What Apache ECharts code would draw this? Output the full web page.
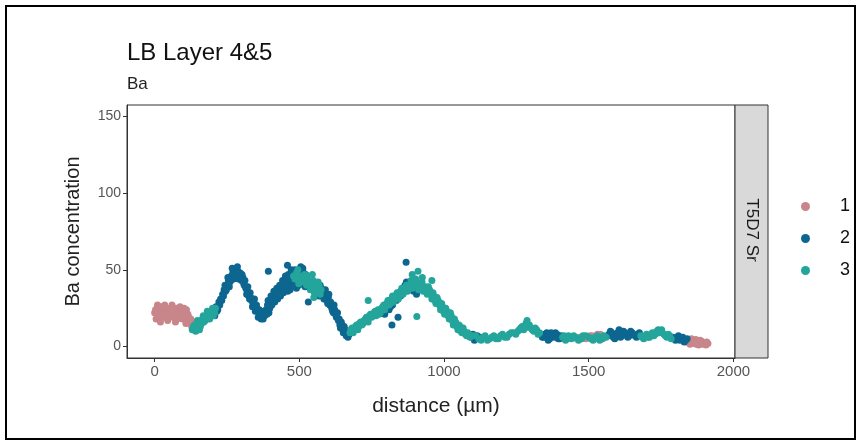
<!DOCTYPE html>
<html>
<head>
<meta charset="utf-8">
<script src="https://cdn.jsdelivr.net/npm/echarts@6/dist/echarts.min.js"></script>
<style>html,body{margin:0;padding:0;background:#fff}#c{width:860px;height:441px}</style>
</head>
<body>
<div id="c"></div>
<script>
var groups = ['1', '2', '3'];
var colors = ['#C8858A', '#0D668F', '#24A59C'];
var xTicks = [0, 500, 1000, 1500, 2000];
var yTicks = [0, 50, 100, 150];

var dist1 = [0,5,8,10,15,20,22,28,32,38,42,45,50,55,60,62,68,72,75,80,85,88,92,96,100,105,110,112,118,122,128,132,
  3,12,18,25,35,48,58,65,78,90,102,115,125,108,
  1470,1490,1505,1520,1540,1555,1530,1548,1512,
  1830,1845,1855,1865,1875,1885,1895,1905,1912,1850,1870,1890,1880,1838,1860,1898,1908,1872,1885];
var ba1 = [22,18,25,27,20,16,23,26,19,22,25,17,21,24,27,19,22,16,25,21,19,26,23,18,22,20,24,17,19,15,13,16,
  24,21,26,20,27,19,22,25,18,21,25,21,18,15,
  6,5,7,5,8,6,8,5,7,
  4,3,5,2,3,1.5,2.5,1,2,1.5,4.5,3.5,1,3,3.5,1.5,3,1.5,4];

var dist2 = [205,212,218,222,228,235,240,245,250,255,260,265,270,275,278,283,288,292,296,300,305,310,315,320,325,330,335,340,345,350,355,360,365,370,375,378,385,390,395,400,405,410,415,420,425,430,435,440,445,450,455,460,465,470,475,480,485,490,495,500,505,510,515,520,525,
  208,215,225,232,238,243,248,253,258,263,268,273,280,286,290,298,302,308,312,318,322,328,332,338,342,348,352,358,362,368,372,380,388,392,398,402,408,412,418,422,428,432,438,442,448,452,458,462,468,472,478,482,488,492,498,502,508,512,518,522,
  393,459,531,
  565,575,580,588,595,600,605,612,618,622,628,635,640,645,650,655,660,665,670,
  568,572,578,585,590,598,602,608,615,620,625,632,638,642,648,652,658,662,668,672,
  790,800,805,815,825,830,845,855,865,875,885,895,905,820,841,869,
  795,810,822,835,850,860,870,880,890,900,
  1095,1105,1115,1124,1100,1110,
  1335,1345,1355,1365,1375,1385,1395,1405,1340,1350,1360,1370,1380,1390,1400,
  1565,1575,1585,1595,1605,1615,1625,1635,1645,1655,1665,1675,
  1570,1580,1590,1600,1610,1620,1630,1640,1650,1660,1670,
  1790,1800,1810,1820,1830,1840,1795,1805,1815,1825,1835];
var ba2 = [22,26,24,29,31,34,37,36,40,43,42,46,48,45,50,47,49,46,48,43,45,40,38,36,33,35,30,28,31,26,24,22,20,21,18,23,24,27,22,30,27,33,29,35,31,37,33,40,35,38,42,36,44,40,47,43,50,38,46,44,52,41,48,39,45,
  20,23,27,30,33,40,37,45,39,43,51,44,46,52,44,45,47,41,43,34,39,31,32,26,29,23,27,19,24,18,22,20,21,30,25,33,30,36,32,38,34,40,37,43,41,46,39,47,37,50,40,46,42,49,40,48,45,51,43,47,
  49,53,29,
  36,38,33,35,30,32,27,25,22,24,19,17,14,16,11,13,9,8,10,
  33,40,35,31,37,28,34,29,23,27,21,22,18,12,14,9,11,7,6,8,
  22,25,28,26,30,33,35,37,40,38,41,36,34,14,19,55,
  21,24,27,30,33,35,42,37,40,38,
  6,4,7,6,8,5,
  8,6,9,5,7,9,5,7,6,8,4,9,6,8,5,
  7,10,6,8,11,7,9,6,10,8,6,9,
  8,9,5,9,6,10,8,7,9,7,8,
  6,4,7,5,3,5,5,6,4,6,4];

var dist3 = [130,138,145,150,158,165,170,178,185,190,198,203,210,
  134,142,148,155,162,168,175,182,188,195,200,207,
  480,490,498,505,512,518,525,530,538,545,552,558,565,572,545,
  485,495,502,508,515,522,528,535,542,548,555,562,568,575,550,
  675,682,690,698,705,712,720,728,735,742,750,758,765,772,780,788,795,802,810,818,826,834,842,850,858,866,874,882,890,898,905,912,920,928,935,942,950,958,965,972,980,988,995,1002,1010,1018,1025,1032,1040,1048,1055,1062,1070,1078,1086,
  678,686,694,702,708,716,724,732,738,746,754,762,768,776,784,792,798,806,814,822,830,838,846,854,862,870,878,886,894,902,908,916,924,932,938,946,954,962,968,976,984,992,998,1006,1014,1022,1028,1036,1044,1052,1058,1066,1074,1082,1090,
  738,906,910,958,890,925,
  1100,1120,1135,1150,1165,1180,1195,1210,1225,1240,1255,1265,1275,1283,1290,1300,1310,1320,1330,
  1110,1128,1142,1158,1172,1188,1202,1218,1232,1248,1260,1270,1280,1287,1295,1305,1315,1325,
  1410,1420,1430,1440,1455,1465,1480,1500,1515,1530,1545,1560,
  1415,1425,1435,1448,1460,1475,1490,1508,1522,1538,1552,
  1680,1690,1700,1710,1720,1730,1740,1748,1755,1765,1775,1785,
  1685,1695,1705,1715,1725,1735,1744,1752,1760,1770,1780];
var ba3 = [11,14,12,15,13,18,16,19,21,18,23,20,25,
  13,10,17,11,15,20,17,23,20,21,25,22,
  46,48,41,45,43,47,40,43,37,41,35,39,42,34,47,
  44,50,46,42,45,43,46,41,38,43,38,36,40,37,32,
  9,12,11,14,13,16,15,18,17,20,19,22,20,24,22,26,24,28,27,31,29,33,31,36,34,38,36,40,38,42,40,37,41,36,39,34,37,31,33,28,30,24,26,21,23,18,20,14,16,11,13,9,10,7,8,
  11,9,13,11,15,14,17,19,16,21,20,23,22,21,25,27,26,30,28,33,31,35,33,38,37,40,39,43,39,44,41,39,42,38,36,39,34,35,30,32,27,28,23,25,20,22,17,18,13,14,10,12,8,9,6,
  30,19.5,49,43,47,45,
  7,5,6,4,6,5,7,6,8,9,10,12,11,15,13,12,10,11,9,
  7,4,7,5,7,5,8,6,9,8,11,13,12,17,14,11,12,8,
  6,4,7,5,6,4,7,6,4,7,5,6,
  7,5,6,7,5,5,7,5,6,4,7,
  7,5,8,6,9,8,11,10,9,7,8,5,
  6,7,6,8,7,10,9,11,8,6,7];

function pairs(xs, ys) { return xs.map(function (x, i) { return [x, ys[i]]; }); }
var xs = [dist1, dist2, dist3], ys = [ba1, ba2, ba3];

var font = 'Liberation Sans, Arial, sans-serif';
var chart = echarts.init(document.getElementById('c'), null, { renderer: 'canvas' });
chart.setOption({
  animation: false,
  backgroundColor: '#fff',
  title: {
    text: 'LB Layer 4&5', subtext: 'Ba', left: 122, top: 36, itemGap: 11,
    textStyle: { fontFamily: font, fontSize: 24, fontWeight: 'normal', color: '#111' },
    subtextStyle: { fontFamily: font, fontSize: 17, color: '#222' }
  },
  legend: {
    orient: 'vertical', left: 796, top: 192, itemWidth: 9, itemHeight: 9, itemGap: 13,
    icon: 'circle', data: groups,
    textStyle: { fontFamily: font, fontSize: 18, color: '#111', padding: [0, 0, 0, 25], lineHeight: 19 }
  },
  grid: { left: 127, right: 125, top: 105, bottom: 83, show: true, borderColor: '#333', borderWidth: 1, containLabel: false },
  xAxis: {
    type: 'value', min: -95.5, max: 2005.5,
    name: 'distance (µm)', nameLocation: 'middle', nameGap: 38,
    nameTextStyle: { fontFamily: font, fontSize: 21, color: '#222', padding: [0, 0, 0, 10] },
    axisLine: { show: true, onZero: false, lineStyle: { color: '#333' } },
    axisTick: { show: true, length: 4, customValues: xTicks, lineStyle: { color: '#333' } },
    axisLabel: { customValues: xTicks, formatter: function (v) { return String(v); }, fontFamily: font, fontSize: 15, color: '#555', margin: 6 },
    splitLine: { show: false }
  },
  yAxis: {
    type: 'value', min: -7.5, max: 157.5,
    name: 'Ba concentration', nameLocation: 'middle', nameGap: 44, nameRotate: 90,
    nameTextStyle: { fontFamily: font, fontSize: 20, color: '#222' },
    axisLine: { show: true, onZero: false, lineStyle: { color: '#333' } },
    axisTick: { show: true, length: 4, customValues: yTicks, lineStyle: { color: '#333' } },
    axisLabel: { customValues: yTicks, formatter: function (v) { return String(v); }, fontFamily: font, fontSize: 14, color: '#555', margin: 6 },
    splitLine: { show: false }
  },
  series: groups.map(function (g, i) {
    return {
      name: g, type: 'scatter', symbol: 'circle', symbolSize: 7,
      itemStyle: { color: colors[i], opacity: 1 },
      data: pairs(xs[i], ys[i]), silent: true
    };
  }),
  graphic: [
    { type: 'rect', shape: { x: 6, y: 6, width: 849, height: 433 }, style: { fill: 'none', stroke: '#000', lineWidth: 2 }, z: 100 },
    { type: 'rect', shape: { x: 735, y: 105, width: 33, height: 253 }, style: { fill: '#D9D9D9', stroke: '#333', lineWidth: 1 } },
    { type: 'text', x: 751.5, y: 230, rotation: -Math.PI / 2,
      style: { text: 'T5D7 Sr', fontFamily: font, fontSize: 17, fill: '#1A1A1A', align: 'center', verticalAlign: 'middle' } }
  ]
});
</script>
</body>
</html>
